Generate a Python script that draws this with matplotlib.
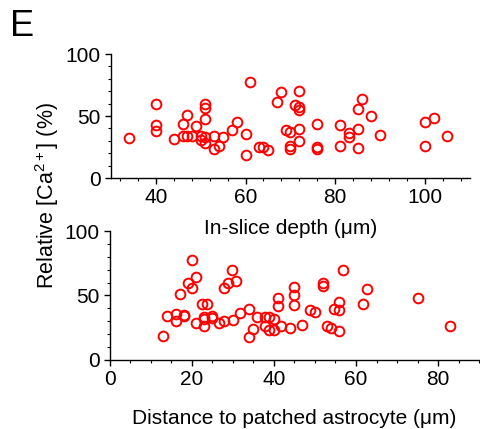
import matplotlib
matplotlib.use("Agg")
import matplotlib.pyplot as plt
from matplotlib.ticker import MultipleLocator

plt.rcParams['font.family'] = ['Liberation Sans', 'DejaVu Sans']
plt.rcParams['mathtext.default'] = 'regular'

# top panel: in-slice depth (um) vs relative Ca (%)
depth = [34, 40, 40, 40, 44, 46, 47, 46, 47, 48, 49, 50, 50, 51, 51, 51, 51, 51,
         53, 53, 54, 55, 57, 58, 60, 60, 61, 63, 64, 65, 67, 68, 69, 70, 70, 70,
         71, 72, 72, 72, 72, 72, 76, 76, 76, 81, 81, 83, 83, 85, 85, 85, 86, 88,
         90, 100, 100, 102, 105]
ca_depth = [32.2, 59.7, 42.7, 37.6, 31.6, 43.5, 50.8, 33.8, 33.8, 33.8, 41.6, 33.8,
            30.8, 59.7, 56.2, 47.8, 33.5, 28.1, 33.8, 23.2, 25.9, 33.5, 38.4, 44.9,
            35.4, 18.4, 77.6, 25.4, 25.4, 22.4, 61.6, 69.5, 38.9, 36.8, 25.9, 23.2,
            59.2, 57.0, 55.1, 70.0, 39.5, 30.0, 43.5, 25.4, 23.8, 42.7, 25.9, 36.2,
            33.2, 55.4, 39.5, 24.3, 64.1, 50.3, 34.6, 45.1, 25.9, 48.4, 34.3]

# bottom panel: distance to patched astrocyte (um) vs relative Ca (%)
dist = [13, 14, 16, 16, 17, 18, 18, 19, 20, 20, 21, 21, 22.5, 23.7, 23, 23, 23,
        25, 25, 26.7, 27.8, 27.8, 28.8, 29.8, 30.8, 30, 31.8, 33.9, 33.9, 34.8,
        35.8, 37.8, 37.8, 38.9, 38.9, 39.9, 39.9, 40.9, 40.9, 41.8, 43.9, 44.9,
        44.9, 44.9, 46.8, 48.8, 49.9, 51.9, 51.9, 52.9, 53.9, 54.7, 55.8, 55.9,
        55.8, 56.9, 61.8, 62.8, 75, 82.8]
ca_dist = [18.8, 33.9, 35.4, 30.2, 50.8, 33.9, 34.9, 59.4, 55.5, 77.3, 64.3, 28.6,
           43.5, 43.5, 33.3, 31.8, 26.0, 33.9, 32.8, 28.6, 30.5, 56.0, 59.4, 69.8,
           61.5, 30.7, 36.5, 39.3, 17.7, 24.0, 33.3, 33.3, 26.0, 33.3, 23.4, 31.8,
           23.4, 41.7, 48.4, 26.0, 25.0, 42.4, 50.3, 56.8, 27.1, 39.0, 37.2, 59.4,
           57.6, 26.0, 25.0, 39.3, 45.1, 38.5, 22.4, 69.8, 43.0, 54.9, 47.7, 26.3]

fig = plt.figure(figsize=(4.8, 4.29), dpi=100)
ax1 = fig.add_axes([0.231, 0.585, 0.748, 0.289])
ax2 = fig.add_axes([0.229, 0.161, 0.769, 0.3005])


def style(ax, xmin, xmax, xmajor, xminor):
    ax.set_xlim(xmin, xmax)
    ax.set_ylim(0, 100)
    ax.xaxis.set_major_locator(MultipleLocator(xmajor))
    ax.xaxis.set_minor_locator(MultipleLocator(xminor))
    ax.yaxis.set_major_locator(MultipleLocator(50))
    ax.yaxis.set_minor_locator(MultipleLocator(10))
    for s in ['top', 'right']:
        ax.spines[s].set_visible(False)
    for s in ['left', 'bottom']:
        ax.spines[s].set_linewidth(1.0)
    ax.tick_params(which='major', direction='out', length=4, width=1.0,
                   labelsize=15, pad=3.5)
    ax.tick_params(which='minor', direction='out', length=2, width=0.8)
    ax.patch.set_alpha(0)


ax1.plot(depth, ca_depth, 'o', mfc='none', mec='#ff0000', ms=7, mew=1.4,
         clip_on=False)
style(ax1, 30, 110, 20, 4)
ax1.set_xticks([40, 60, 80, 100])
ax1.set_xlabel('In-slice depth (\u03bcm)', fontsize=15, labelpad=8)

ax2.plot(dist, ca_dist, 'o', mfc='none', mec='#ff0000', ms=7, mew=1.4,
         clip_on=False)
style(ax2, 0, 90, 20, 5)
ax2.set_xticks([0, 20, 40, 60, 80])
ax2.set_xlabel('Distance to patched astrocyte (\u03bcm)', fontsize=15, labelpad=14)

fig.text(0.098, 0.545, 'Relative [Ca$^{2+}$] (%)', rotation=90, fontsize=15.5,
         ha='center', va='center')
fig.text(0.02, 0.98, 'E', fontsize=26, ha='left', va='top')

fig.savefig('out.png', dpi=100)
